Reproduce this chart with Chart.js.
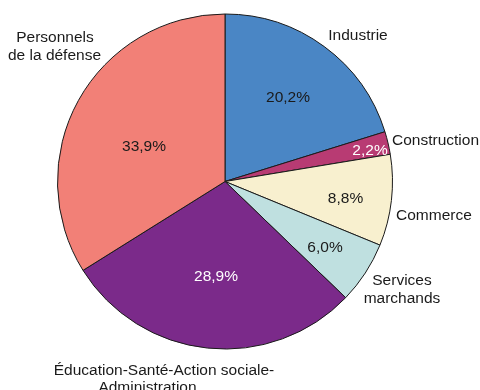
<!DOCTYPE html>
<html>
<head>
<meta charset="utf-8">
<script src="https://cdn.jsdelivr.net/npm/chart.js@4"></script>
<style>
	html, body { margin: 0; padding: 0; background: #fff; }
	#wrap { width: 480px; height: 390px; }
</style>
</head>
<body>
<div id="wrap"><canvas id="pieChart" width="480" height="390"></canvas></div>
<script>
// data
const categories = ['Industrie', 'Construction', 'Commerce', 'Services marchands', 'Éducation-Santé-Action sociale-Administration', 'Personnels de la défense'];
const shares = [20.2, 2.2, 8.8, 6.0, 28.9, 33.9];
const pctLabels = ['20,2%', '2,2%', '8,8%', '6,0%', '28,9%', '33,9%'];
const nameLines = [['Industrie'], ['Construction'], ['Commerce'], ['Services', 'marchands'], ['Éducation-Santé-Action sociale-', 'Administration'], ['Personnels', 'de la défense']];

const sliceColors = ['#4a86c5', '#b83b73', '#f8f0cf', '#bfe0e0', '#7b2a8a', '#f28077'];
const pctColors = ['#1a1a1a', '#ffffff', '#1a1a1a', '#1a1a1a', '#ffffff', '#1a1a1a'];

// label placement, offsets from the pie centre
const pctOffsets = [[63, -83.5], [145, -31], [120.5, 17], [100, 66.5], [-9, 95.5], [-81, -34.5]];
const nameLayout = [
	{ align: 'center', lines: [[133, -146]] },
	{ align: 'left', lines: [[167, -41]] },
	{ align: 'left', lines: [[171, 34]] },
	{ align: 'center', lines: [[177, 99], [177, 117]] },
	{ align: 'center', lines: [[-61, 189], [-77.5, 206]] },
	{ align: 'center', lines: [[-170, -144], [-170.5, -126]] }
];

const FONT = '15.5px "Liberation Sans", Arial, sans-serif';

const labelPlugin = {
	id: 'sliceLabels',
	afterDatasetsDraw(chart) {
		const ctx = chart.ctx;
		const meta = chart.getDatasetMeta(0);
		ctx.save();
		ctx.font = FONT;
		ctx.textBaseline = 'middle';
		meta.data.forEach((arc, i) => {
			const cx = arc.x;
			const cy = arc.y;
			ctx.fillStyle = pctColors[i];
			ctx.textAlign = 'center';
			ctx.fillText(pctLabels[i], cx + pctOffsets[i][0], cy + pctOffsets[i][1]);

			ctx.fillStyle = '#1a1a1a';
			ctx.textAlign = nameLayout[i].align;
			nameLines[i].forEach((line, j) => {
				const off = nameLayout[i].lines[j];
				ctx.fillText(line, cx + off[0], cy + off[1]);
			});
		});
		ctx.restore();
	}
};

const canvas = document.getElementById('pieChart');

new Chart(canvas, {
	type: 'pie',
	data: {
		labels: categories,
		datasets: [{
			data: shares,
			backgroundColor: sliceColors,
			borderColor: '#1a1a1a',
			borderWidth: 1,
			hoverOffset: 0
		}]
	},
	options: {
		responsive: false,
		animation: false,
		layout: {
			padding: { left: 57, right: 87, top: 13, bottom: 40 }
		},
		plugins: {
			legend: { display: false },
			tooltip: { enabled: false }
		}
	},
	plugins: [labelPlugin]
});
</script>
</body>
</html>
